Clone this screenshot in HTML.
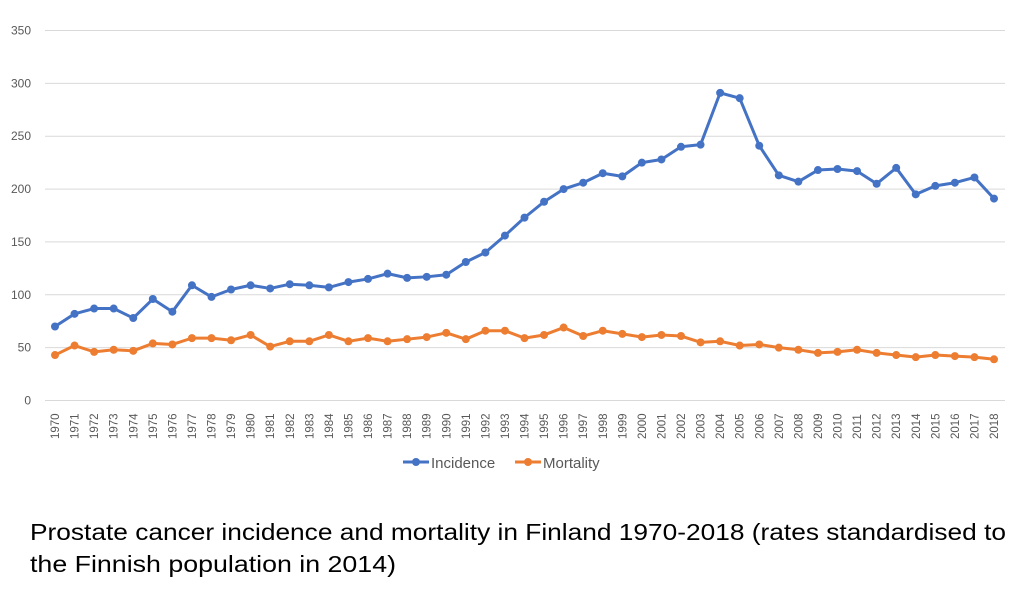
<!DOCTYPE html>
<html><head><meta charset="utf-8"><style>
body{margin:0;background:#fff;width:1024px;height:587px;overflow:hidden;font-family:"Liberation Sans",sans-serif}
</style></head><body>
<svg id="chart" width="1024" height="587" xmlns="http://www.w3.org/2000/svg"></svg>
<script>
const years=[];for(let y=1970;y<=2018;y++)years.push(y);
const incidence=[70,82,87,87,78,96,84,109,98,105,109,106,110,109,107,112,115,120,116,117,119,131,140,156,173,188,200,206,215,212,225,228,240,242,291,286,241,213,207,218,219,217,205,220,195,203,206,211,191];
const mortality=[43,52,46,48,47,54,53,59,59,57,62,51,56,56,62,56,59,56,58,60,64,58,66,66,59,62,69,61,66,63,60,62,61,55,56,52,53,50,48,45,46,48,45,43,41,43,42,41,39];
const yTicks=[0,50,100,150,200,250,300,350];
const NS="http://www.w3.org/2000/svg";
const svg=document.getElementById('chart');
const x0=55,x1=994,yb=400.5,yt=30.5;
const xs=i=>x0+(x1-x0)*i/(years.length-1);
const ys=v=>yb-(yb-yt)*v/350;
function mk(t,a,p){const e=document.createElementNS(NS,t);for(const k in a)e.setAttribute(k,a[k]);(p||svg).appendChild(e);return e;}
yTicks.forEach(v=>{
  const g=mk('line',{x1:45,x2:1005,y1:ys(v),y2:ys(v),stroke:'#d9d9d9','stroke-width':1});
  
  
  const t=mk('text',{x:31,y:ys(v)+4,'text-anchor':'end','font-size':12,fill:'#595959'});
  t.textContent=v;
  
  
});
years.forEach((yr,i)=>{
  const t=mk('text',{transform:`translate(${xs(i)+4},439) rotate(-90)`,'font-size':11.5,fill:'#595959'});
  t.textContent=yr;
  
  
});
function series(data,color,name){
  const g=mk('g',{});
  
  
  mk('polyline',{points:data.map((v,i)=>xs(i)+','+ys(v)).join(' '),fill:'none',stroke:color,'stroke-width':3,'stroke-linejoin':'round'},g);
  data.forEach((v,i)=>{
    const c=mk('circle',{cx:xs(i),cy:ys(v),r:4,fill:color},g);
    
    
  });
}
series(incidence,'#4472c4','incidence');
series(mortality,'#ed7d31','mortality');
// legend
const lg=mk('g',{});


[['Incidence','#4472c4',403],['Mortality','#ed7d31',515]].forEach(([n,c,x])=>{
  const e=mk('g',{},lg);
  
  
  mk('line',{x1:x,x2:x+26,y1:462,y2:462,stroke:c,'stroke-width':3},e);
  mk('circle',{cx:x+13,cy:462,r:4,fill:c},e);
  const t=mk('text',{x:x+28,y:468,'font-size':15,fill:'#595959'},e);
  t.textContent=n;
});
const c1=mk('text',{x:30,y:540,'font-size':23,fill:'#000',textLength:976,lengthAdjust:'spacingAndGlyphs'});
c1.textContent='Prostate cancer incidence and mortality in Finland 1970-2018 (rates standardised to';


const c2=mk('text',{x:30,y:572,'font-size':23,fill:'#000',textLength:366,lengthAdjust:'spacingAndGlyphs'});
c2.textContent='the Finnish population in 2014)';


</script>
</body></html>
